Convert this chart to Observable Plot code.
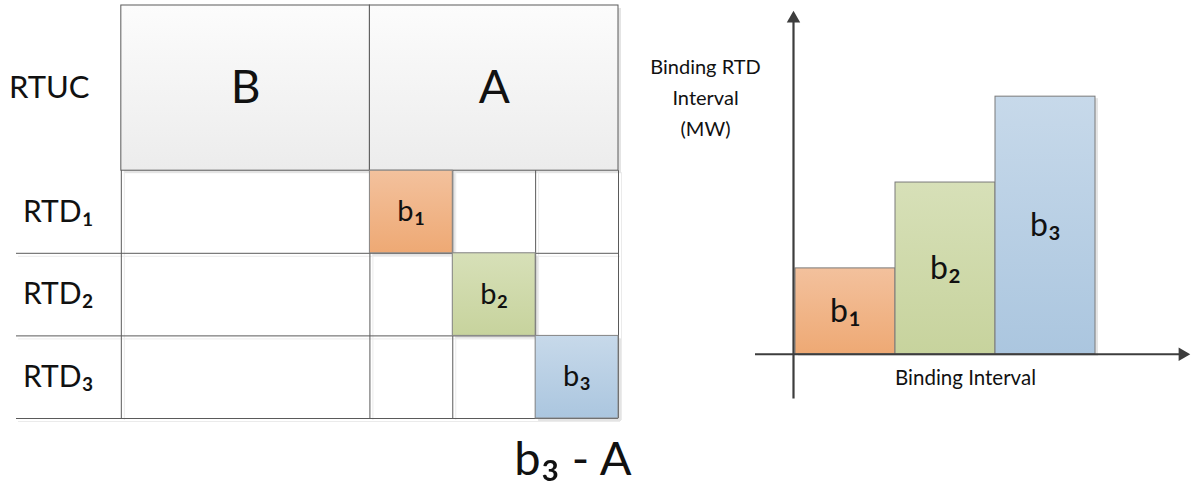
<!DOCTYPE html>
<html><head><meta charset="utf-8">
<script src="https://cdn.jsdelivr.net/npm/d3@7"></script>
<script src="https://cdn.jsdelivr.net/npm/@observablehq/plot@0.6"></script>
<style>
body{margin:0;background:#fff;width:1191px;height:485px;overflow:hidden;position:relative}
#left{position:absolute;left:0;top:0}
#right{position:absolute;left:640px;top:0}
svg text{font-family:Lato,"Noto Sans",sans-serif}
</style></head><body>
<svg width="0" height="0" style="position:absolute">
<defs>
<linearGradient id="gHeader" x1="0" y1="0" x2="0" y2="1"><stop offset="0" stop-color="#fcfcfc"/><stop offset="1" stop-color="#ececec"/></linearGradient>
<linearGradient id="gOrange" x1="0" y1="0" x2="0" y2="1"><stop offset="0" stop-color="#f3c19d"/><stop offset="1" stop-color="#eea974"/></linearGradient>
<linearGradient id="gGreen" x1="0" y1="0" x2="0" y2="1"><stop offset="0" stop-color="#d7e0b8"/><stop offset="1" stop-color="#c7d39d"/></linearGradient>
<linearGradient id="gBlue" x1="0" y1="0" x2="0" y2="1"><stop offset="0" stop-color="#c7d9ea"/><stop offset="1" stop-color="#abc6df"/></linearGradient>
</defs></svg>
<div id="right"></div><div id="left"></div>
<script>
// ---- data ----
const rtucTitle = "RTUC";
const rtucBlocks = ["B", "A"];
const rtucSpan = [3, 3];            // RTD intervals covered by each RTUC block
const rtdRows = ["RTD₁", "RTD₂", "RTD₃"];
const bindingLabels = ["b₁", "b₂", "b₃"];
const bindingValues = [1, 2, 3];    // binding RTD interval (MW), relative
const yTitle = "Binding RTD\nInterval\n(MW)";
const xTitle = "Binding Interval";

// ---- styles ----
const gradients = ["url(#gOrange)", "url(#gGreen)", "url(#gBlue)"];
const lineColor = "#5a5a5a";
const shadow = "#e4e4e4";
const ink = "#111";

// ---- derived tables ----
const headerDepth = 2;
const header = rtucBlocks.map((name, i) => ({
  name,
  x1: d3.sum(rtucSpan.slice(0, i)),
  x2: d3.sum(rtucSpan.slice(0, i + 1))
}));
const aStart = header[1].x1;
const total = header[header.length - 1].x2;
const rows = rtdRows.map((name, i) => ({name, y1: headerDepth + i, y2: headerDepth + i + 1}));
const cells = bindingLabels.map((label, i) => ({
  label, i, x1: aStart + i, x2: aStart + i + 1, y1: headerDepth + i, y2: headerDepth + i + 1, fill: gradients[i]
}));
const vLines = [0, ...d3.range(rtdRows.length + 1).map(k => aStart + k)];
const labelLeft = -1.265;
const hLines = rows.map(r => r.y2);

// enlarge Unicode subscript digits (kept as the same characters)
function enlargeSubscripts(svg) {
  svg.querySelectorAll("text").forEach(t => {
    if (t.children.length) return;
    const s = t.textContent;
    if (!/[₀-₉]/.test(s)) return;
    t.textContent = "";
    for (const part of s.split(/([₀-₉]+)/)) {
      if (!part) continue;
      const ts = document.createElementNS("http://www.w3.org/2000/svg", "tspan");
      ts.textContent = part;
      if (/[₀-₉]/.test(part)) ts.setAttribute("font-size", "122%");
      t.appendChild(ts);
    }
  });
  return svg;
}

// left: 82.86 px per interval; extra width on the right is transparent
const left = Plot.plot({
  width: 700, height: 485,
  marginLeft: 16, marginRight: 82, marginTop: 5, marginBottom: 67,
  style: {background: "transparent"},
  x: {domain: [labelLeft, total], axis: null},
  y: {domain: [0, headerDepth + rtdRows.length], reverse: true, axis: null},
  color: {type: "identity"},
  marks: [
    // shadows
    Plot.rect(header, {x1: "x1", x2: "x2", y1: 0, y2: headerDepth, fill: shadow, dx: 3, dy: 3}),
    Plot.ruleY(hLines, {x1: labelLeft, x2: total, stroke: "#ebebeb", dx: 2, dy: 3}),
    Plot.ruleX(vLines, {y1: headerDepth, y2: headerDepth + rtdRows.length, stroke: "#ebebeb", dx: 3, dy: 2}),
    Plot.rect(cells, {x1: "x1", x2: "x2", y1: "y1", y2: "y2", fill: shadow, dx: 3, dy: 3}),
    // header
    Plot.rect(header, {x1: "x1", x2: "x2", y1: 0, y2: headerDepth, fill: "url(#gHeader)", stroke: lineColor, strokeWidth: 1}),
    // grid
    Plot.ruleY(hLines, {x1: labelLeft, x2: total, stroke: lineColor, strokeWidth: 1}),
    Plot.ruleX(vLines, {y1: headerDepth, y2: headerDepth + rtdRows.length, stroke: lineColor, strokeWidth: 1}),
    // binding cells
    Plot.rect(cells, {x1: "x1", x2: "x2", y1: "y1", y2: "y2", fill: "fill", stroke: "#888", strokeWidth: 1}),
    // texts
    Plot.text([rtucTitle], {x: -0.87, y: headerDepth / 2, text: d => d, fontSize: 31, fill: ink}),
    Plot.text(header, {x: d => (d.x1 + d.x2) / 2, y: headerDepth / 2, text: "name", fontSize: 46, fill: ink}),
    Plot.text(rows, {x: -0.76, y: d => (d.y1 + d.y2) / 2, text: "name", fontSize: 30, fill: ink}),
    Plot.text(cells, {x: d => (d.x1 + d.x2) / 2, y: d => (d.y1 + d.y2) / 2, text: "label", fontSize: 29, fill: ink}),
    Plot.text([`${bindingLabels[2]} - ${rtucBlocks[1]}`], {x: 5.45, y: headerDepth + rtdRows.length + 0.5, text: d => d, fontSize: 47, fill: ink})
  ]
});
document.getElementById("left").append(enlargeSubscripts(left));

const bars = bindingValues.map((v, i) => ({v, i, label: bindingLabels[i], fill: gradients[i]}));
const axisColor = "#3d3d3d";
const axisX = -0.02;
const right = Plot.plot({
  width: 551, height: 485,
  marginLeft: 115, marginRight: 2, marginTop: 6, marginBottom: 84,
  style: {background: "transparent"},
  x: {domain: [-0.4, 3.94], axis: null},
  y: {domain: [-0.55, 4.05], axis: null},
  color: {type: "identity"},
  marks: [
    Plot.rect(bars, {x1: "i", x2: d => d.i + 1, y1: 0, y2: "v", fill: shadow, dx: 3, dy: 2}),
    Plot.rect(bars, {x1: "i", x2: d => d.i + 1, y1: 0, y2: "v", fill: "fill", stroke: "#7a7a7a", strokeWidth: 1}),
    Plot.ruleY([0], {x1: -0.4, x2: 3.86, stroke: axisColor, strokeWidth: 2.2}),
    Plot.ruleX([axisX], {y1: -0.52, y2: 3.9, stroke: axisColor, strokeWidth: 2.2}),
    Plot.dot([0], {x: 3.87, y: 0, symbol: "triangle", r: 5, rotate: 90, fill: axisColor, stroke: "none"}),
    Plot.dot([0], {x: axisX, y: 3.91, symbol: "triangle", r: 5, fill: axisColor, stroke: "none"}),
    Plot.text(bars, {x: d => d.i + 0.5, y: d => d.v / 2, text: "label", fontSize: 32, fill: ink}),
    Plot.text([yTitle], {x: -0.9, y: 3.015, text: d => d, fontSize: 20, lineHeight: 1.55, fill: ink}),
    Plot.text([xTitle], {x: 1.7, y: -0.28, text: d => d, fontSize: 20.5, fill: ink})
  ]
});
document.getElementById("right").append(enlargeSubscripts(right));
</script>
</body></html>
